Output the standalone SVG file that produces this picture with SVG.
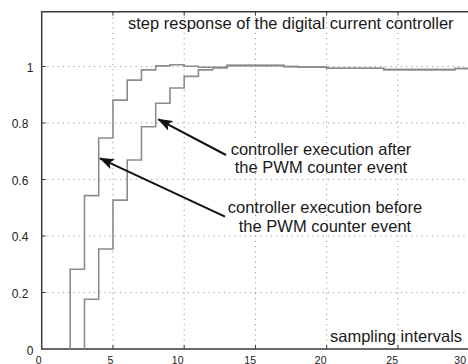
<svg xmlns="http://www.w3.org/2000/svg" width="468" height="364" viewBox="0 0 468 364">
<style>
.grid{stroke:#9a9a9a;stroke-width:1;stroke-dasharray:1.2 4;fill:none}
.axis{stroke:#3a3a3a;stroke-width:1.5;fill:none}
.tick{stroke:#3a3a3a;stroke-width:1;fill:none}
.curve{stroke:#8c8c8c;stroke-width:1.6;fill:none}
.lbl{font-family:"Liberation Sans",Arial,sans-serif;font-size:16.5px;fill:#1a1a1a}
.tl{font-family:"Liberation Sans",Arial,sans-serif;font-size:12px;fill:#1a1a1a}
.xl{font-family:"Liberation Sans",Arial,sans-serif;font-size:10.5px;fill:#1a1a1a}
.arrow{stroke:#111;stroke-width:2;fill:none}
</style>
<defs>
<marker id="ah" viewBox="0 0 14 10" refX="13" refY="5" markerWidth="15" markerHeight="11" markerUnits="userSpaceOnUse" orient="auto">
<path d="M0,0 L14,5 L0,10 L3,5 z" fill="#111"/>
</marker>
</defs>
<rect width="468" height="364" fill="#fff"/>
<g id="grid">
<path class="grid" d="M112.95 12V349M184.2 12V349M255.45 12V349M326.7 12V349M397.95 12V349"/>
<path class="grid" d="M42 66.5H468M42 123H468M42 179.5H468M42 236H468M42 292.5H468"/>
</g>
<g id="axes">
<path class="axis" d="M469 11.7H41.7V349H469"/>
<path class="tick" d="M112.95 349v-4M184.2 349v-4M255.45 349v-4M326.7 349v-4M397.95 349v-4M112.95 11.7v4M184.2 11.7v4M255.45 11.7v4M326.7 11.7v4M397.95 11.7v4M41.7 66.5h4M41.7 123h4M41.7 179.5h4M41.7 236h4M41.7 292.5h4"/>
<g id="ylabels">
<text class="tl" x="26.7" y="72">1</text>
<text class="tl" x="11.7" y="128.4">0.8</text>
<text class="tl" x="11.7" y="184.9">0.6</text>
<text class="tl" x="11.7" y="241.4">0.4</text>
<text class="tl" x="11.7" y="297.9">0.2</text>
<text class="tl" x="26.7" y="355">0</text>
</g>
<g id="xlabels" text-anchor="end">
<text class="xl" x="41.7" y="363.5">0</text>
<text class="xl" x="113.3" y="363.5">5</text>
<text class="xl" x="183.5" y="363.5">10</text>
<text class="xl" x="256" y="363.5">15</text>
<text class="xl" x="326.5" y="363.5">20</text>
<text class="xl" x="398" y="363.5">25</text>
<text class="xl" x="466" y="363.5">30</text>
</g>
</g>
<g id="curves">
<path id="curve-before" class="curve" d="M70.2 349V269.3H84.45V195.6H98.7V138H112.95V100.1H127.2V80.1H141.45V69.9H155.7V65.9H169.95V64.8H184.2V66.2H198.45V67.3H226.95V65.4H283.95V66.5H298.2V67.1H326.7V68.2H383.7V69.6H455V68.5H469"/>
<path id="curve-after" class="curve" d="M84.45 349V299.3H98.7V249H112.95V200.1H127.2V160H141.45V126.7H155.7V103.2H169.95V88H184.2V76.4H198.45V69.9H212.7V67.9H226.95V65.6H283.95V66.6H298.2V67.1H326.7V68.2H383.7V69.6H455V68.5H469"/>
</g>
<g id="title">
<text class="lbl" x="128" y="28.5">step response of the digital current controller</text>
</g>
<g id="label-after" text-anchor="middle">
<text class="lbl" x="321" y="155">controller execution after</text>
<text class="lbl" x="321" y="173.3">the PWM counter event</text>
</g>
<g id="label-before" text-anchor="middle">
<text class="lbl" x="325" y="213.3">controller execution before</text>
<text class="lbl" x="325" y="231.7">the PWM counter event</text>
</g>
<g id="xaxis-title">
<text class="lbl" x="330" y="341.7">sampling intervals</text>
</g>
<g id="connectors">
<line class="arrow" x1="226" y1="155" x2="158.3" y2="119.3" marker-end="url(#ah)"/>
<line class="arrow" x1="225" y1="216.7" x2="100" y2="158.3" marker-end="url(#ah)"/>
</g>
</svg>
